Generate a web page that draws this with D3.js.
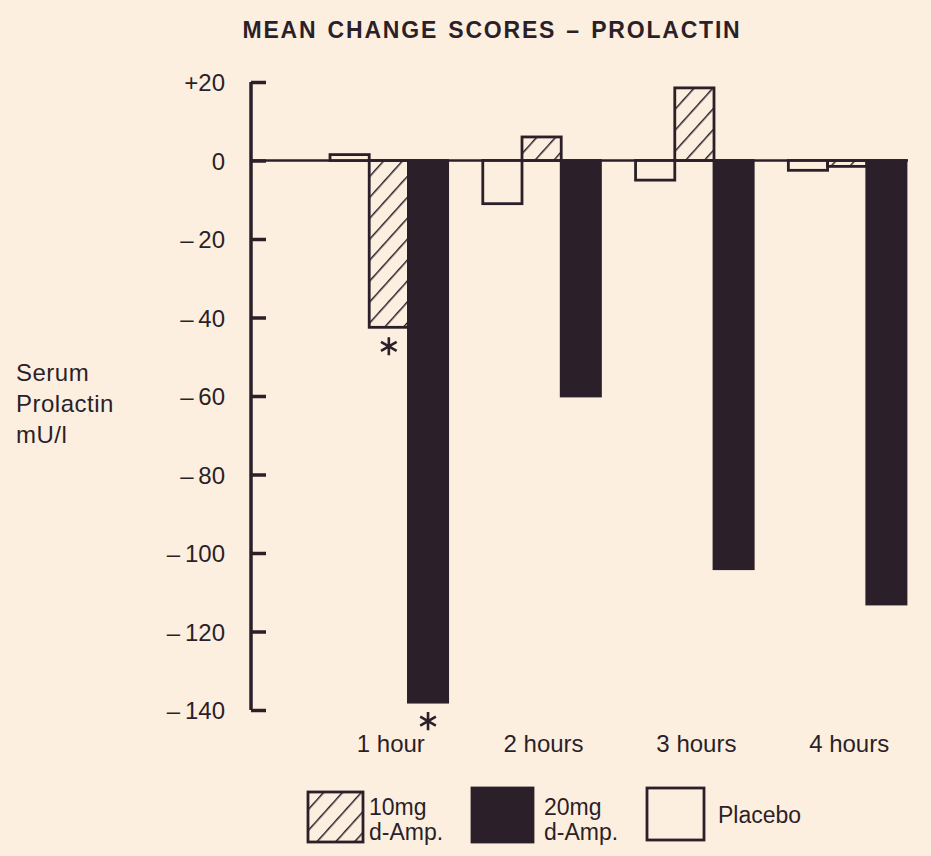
<!DOCTYPE html>
<html><head><meta charset="utf-8">
<script src="https://cdn.jsdelivr.net/npm/d3@7"></script>
<style>body{margin:0;background:#fdefdf;} svg{display:block;}</style>
</head><body>
<script>
const categories = ["1 hour","2 hours","3 hours","4 hours"];
const seriesNames = ["Placebo","10mg d-Amp.","20mg d-Amp."];
const placebo = [1.5, -11, -5, -2.5];
const amp10 = [-42.5, 6, 18.5, -1.5];
const amp20 = [-138, -60, -104, -113];
const yTicks = [20,0,-20,-40,-60,-80,-100,-120,-140];
const yTickLabels = ["+20","0","\u2013\u200920","\u2013\u200940","\u2013\u200960","\u2013\u200980","\u2013\u2009100","\u2013\u2009120","\u2013\u2009140"];
const significant = [{cat:"1 hour", series:"10mg d-Amp."},{cat:"1 hour", series:"20mg d-Amp."}];

const W=931,H=856, ink="#2b1f29", bg="#fdefdf";
const svg=d3.select("body").append("svg").attr("width",W).attr("height",H).style("background",bg);
const defs=svg.append("defs");
const pat=defs.append("pattern").attr("id","hatch").attr("patternUnits","userSpaceOnUse")
  .attr("width",14).attr("height",14).attr("patternTransform","rotate(42)");
pat.append("line").attr("x1",0).attr("y1",0).attr("x2",0).attr("y2",14).attr("stroke",ink).attr("stroke-width",3);

const font="'Liberation Sans', Arial, sans-serif";
const y=d3.scaleLinear().domain([20,-140]).range([82,710]);
const x=d3.scaleBand().domain(categories).range([330,906]).paddingInner(0.23).paddingOuter(0);
const xs=d3.scaleBand().domain(seriesNames).range([0,x.bandwidth()]);
const fills={"Placebo":bg,"10mg d-Amp.":"url(#hatch)","20mg d-Amp.":ink};
const vals={"Placebo":placebo,"10mg d-Amp.":amp10,"20mg d-Amp.":amp20};

// title
svg.append("text").attr("x",492).attr("y",38).attr("text-anchor","middle")
  .attr("font-family",font).attr("font-weight","bold").attr("font-size",23).attr("fill",ink)
  .attr("letter-spacing",1.8).attr("word-spacing",2)
  .text("MEAN CHANGE SCORES \u2013 PROLACTIN");

// zero line
svg.append("line").attr("x1",251).attr("x2",908).attr("y1",y(0)).attr("y2",y(0)).attr("stroke",ink).attr("stroke-width",2.5);

// bars
const data=[];
categories.forEach((c,i)=>seriesNames.forEach(s=>data.push({c,s,v:vals[s][i]})));
svg.append("g").selectAll("rect").data(data).join("rect")
  .attr("x",d=>x(d.c)+xs(d.s))
  .attr("width",xs.bandwidth())
  .attr("y",d=>y(Math.max(0,d.v)))
  .attr("height",d=>Math.abs(y(d.v)-y(0)))
  .attr("fill",d=>fills[d.s]).attr("stroke",ink).attr("stroke-width",2.8);

// axis
const axis=d3.axisRight(y).tickValues(yTicks).tickSize(15).tickFormat("");
const ag=svg.append("g").attr("transform","translate(251,0)").call(axis);
ag.select(".domain").attr("stroke",ink).attr("stroke-width",3.5).attr("d",`M0,${y(20)}V${y(-140)}`);
ag.selectAll(".tick line").attr("stroke",ink).attr("stroke-width",3.5);
svg.append("g").selectAll("text").data(yTicks).join("text")
  .attr("x",225).attr("y",d=>y(d)+9).attr("text-anchor","end")
  .attr("font-family",font).attr("font-size",24).attr("fill",ink)
  .text((d,i)=>yTickLabels[i]);

// category labels
svg.append("g").selectAll("text").data(categories).join("text")
  .attr("x",d=>x(d)+x.bandwidth()/2+2).attr("y",752).attr("text-anchor","middle")
  .attr("font-family",font).attr("font-size",24).attr("fill",ink).text(d=>d);

// y label
["Serum","Prolactin","mU/l"].forEach((t,i)=>svg.append("text").attr("x",16).attr("y",381+i*31)
  .attr("font-family",font).attr("font-size",24).attr("letter-spacing",0.5).attr("fill",ink).text(t));

// asterisks
svg.append("g").selectAll("path").data(significant).join("path")
  .attr("transform",d=>`translate(${x(d.cat)+xs(d.series)+xs.bandwidth()/2},${y(vals[d.series][categories.indexOf(d.cat)])+19})`)
  .attr("d",d3.symbol(d3.symbolAsterisk,230))
  .attr("fill","none").attr("stroke",ink).attr("stroke-width",2.6);

// legend
const leg=[{s:"10mg d-Amp.",x:308,y:792,w:55,h:50,l:["10mg","d-Amp."],tx:369},
           {s:"20mg d-Amp.",x:472,y:788,w:61,h:54,l:["20mg","d-Amp."],tx:544},
           {s:"Placebo",x:647,y:788,w:57,h:52,l:["Placebo"],tx:718}];
leg.forEach(d=>{
  svg.append("rect").attr("x",d.x).attr("y",d.y).attr("width",d.w).attr("height",d.h)
    .attr("fill",fills[d.s]).attr("stroke",ink).attr("stroke-width",2.8);
  if(d.l.length==2){
    svg.append("text").attr("x",d.tx).attr("y",815).attr("font-family",font).attr("font-size",23).attr("fill",ink).text(d.l[0]);
    svg.append("text").attr("x",d.tx).attr("y",840).attr("font-family",font).attr("font-size",23).attr("fill",ink).text(d.l[1]);
  } else {
    svg.append("text").attr("x",d.tx).attr("y",823).attr("font-family",font).attr("font-size",23).attr("fill",ink).text(d.l[0]);
  }
});
</script>
</body></html>
